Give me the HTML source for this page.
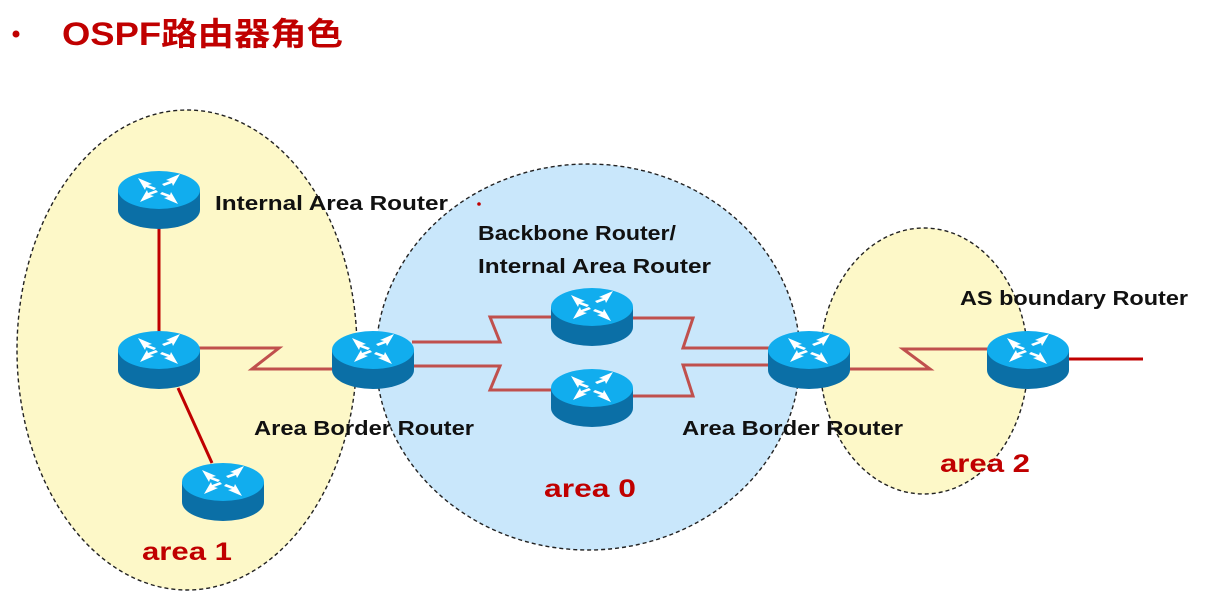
<!DOCTYPE html>
<html><head><meta charset="utf-8"><style>
html,body{margin:0;padding:0;background:#fff;}
svg{display:block;}
.lbl{font-family:"Liberation Sans","Noto Sans CJK SC",sans-serif;font-weight:bold;font-size:20px;fill:#111;}
.ar{font-family:"Liberation Sans",sans-serif;font-weight:bold;font-size:25px;fill:#c00000;}
</style></head><body>
<svg width="1211" height="601" viewBox="0 0 1211 601" xmlns="http://www.w3.org/2000/svg">
<defs>
<g id="rt">
<path d="M0,20 L0,40 A41,19 0 0 0 82,40 L82,20 Z" fill="#0b6fa6"/>
<ellipse cx="41" cy="20" rx="41" ry="19" fill="#11adee"/>
<g fill="#fff">
<polygon points="20,8 34,14 30,15 38,18 36,20 28,17 27,20"/>
<polygon points="62,8 48,14 52,15 44,18 46,20 54,17 55,20" transform="translate(0,-4)"/>
<polygon points="20,30 34,24 30,23 38,20 36,18 28,21 27,18" transform="translate(2,2)"/>
<polygon points="62,30 48,24 52,23 44,20 46,18 54,21 55,18" transform="translate(-2,4)"/>
</g>
</g>
</defs>
<circle cx="16" cy="34" r="3.5" fill="#c00000"/>
<text x="62" y="45" font-family="'Liberation Sans','Noto Sans CJK SC',sans-serif" font-weight="bold" font-size="32" fill="#c00000" textLength="281" lengthAdjust="spacingAndGlyphs">OSPF路由器角色</text>
<ellipse cx="187" cy="350" rx="170" ry="240" fill="#fdf8c8" stroke="#222" stroke-width="1.4" stroke-dasharray="4,3"/>
<ellipse cx="588" cy="357" rx="212" ry="193" fill="#c9e7fb" stroke="#222" stroke-width="1.4" stroke-dasharray="4,3"/>
<ellipse cx="924" cy="361" rx="104" ry="133" fill="#fdf8c8" stroke="#222" stroke-width="1.4" stroke-dasharray="4,3"/>
<circle cx="479" cy="204" r="1.8" fill="#c00000"/>
<g fill="none" stroke-width="3">
<line x1="159" y1="228" x2="159" y2="332" stroke="#c00000"/>
<line x1="178" y1="388" x2="212" y2="463" stroke="#c00000"/>
<polyline points="198,348 279,348 252,369 334,369" stroke="#c0504d"/>
<polyline points="412,342 500,342 490,317 553,317" stroke="#c0504d"/>
<polyline points="412,366 500,366 490,390 553,390" stroke="#c0504d"/>
<polyline points="631,318 693,318 683,348 770,348" stroke="#c0504d"/>
<polyline points="631,396 693,396 683,365 770,365" stroke="#c0504d"/>
<polyline points="848,369 930,369 903,349 988,349" stroke="#c0504d"/>
<line x1="1067" y1="359" x2="1143" y2="359" stroke="#c00000"/>
</g>
<use href="#rt" x="118" y="170"/>
<use href="#rt" x="118" y="330"/>
<use href="#rt" x="182" y="462"/>
<use href="#rt" x="332" y="330"/>
<use href="#rt" x="551" y="287"/>
<use href="#rt" x="551" y="368"/>
<use href="#rt" x="768" y="330"/>
<use href="#rt" x="987" y="330"/>
<text class="lbl" x="215" y="210" textLength="233" lengthAdjust="spacingAndGlyphs">Internal Area Router</text>
<text class="lbl" x="478" y="240" textLength="198" lengthAdjust="spacingAndGlyphs">Backbone Router/</text>
<text class="lbl" x="478" y="273" textLength="233" lengthAdjust="spacingAndGlyphs">Internal Area Router</text>
<text class="lbl" x="960" y="305" textLength="228" lengthAdjust="spacingAndGlyphs">AS boundary Router</text>
<text class="lbl" x="254" y="435" textLength="220" lengthAdjust="spacingAndGlyphs">Area Border Router</text>
<text class="lbl" x="682" y="435" textLength="221" lengthAdjust="spacingAndGlyphs">Area Border Router</text>
<text class="ar" x="544" y="497" textLength="92" lengthAdjust="spacingAndGlyphs">area  0</text>
<text class="ar" x="142" y="560" textLength="90" lengthAdjust="spacingAndGlyphs">area  1</text>
<text class="ar" x="940" y="472" textLength="90" lengthAdjust="spacingAndGlyphs">area  2</text>
</svg>
</body></html>
